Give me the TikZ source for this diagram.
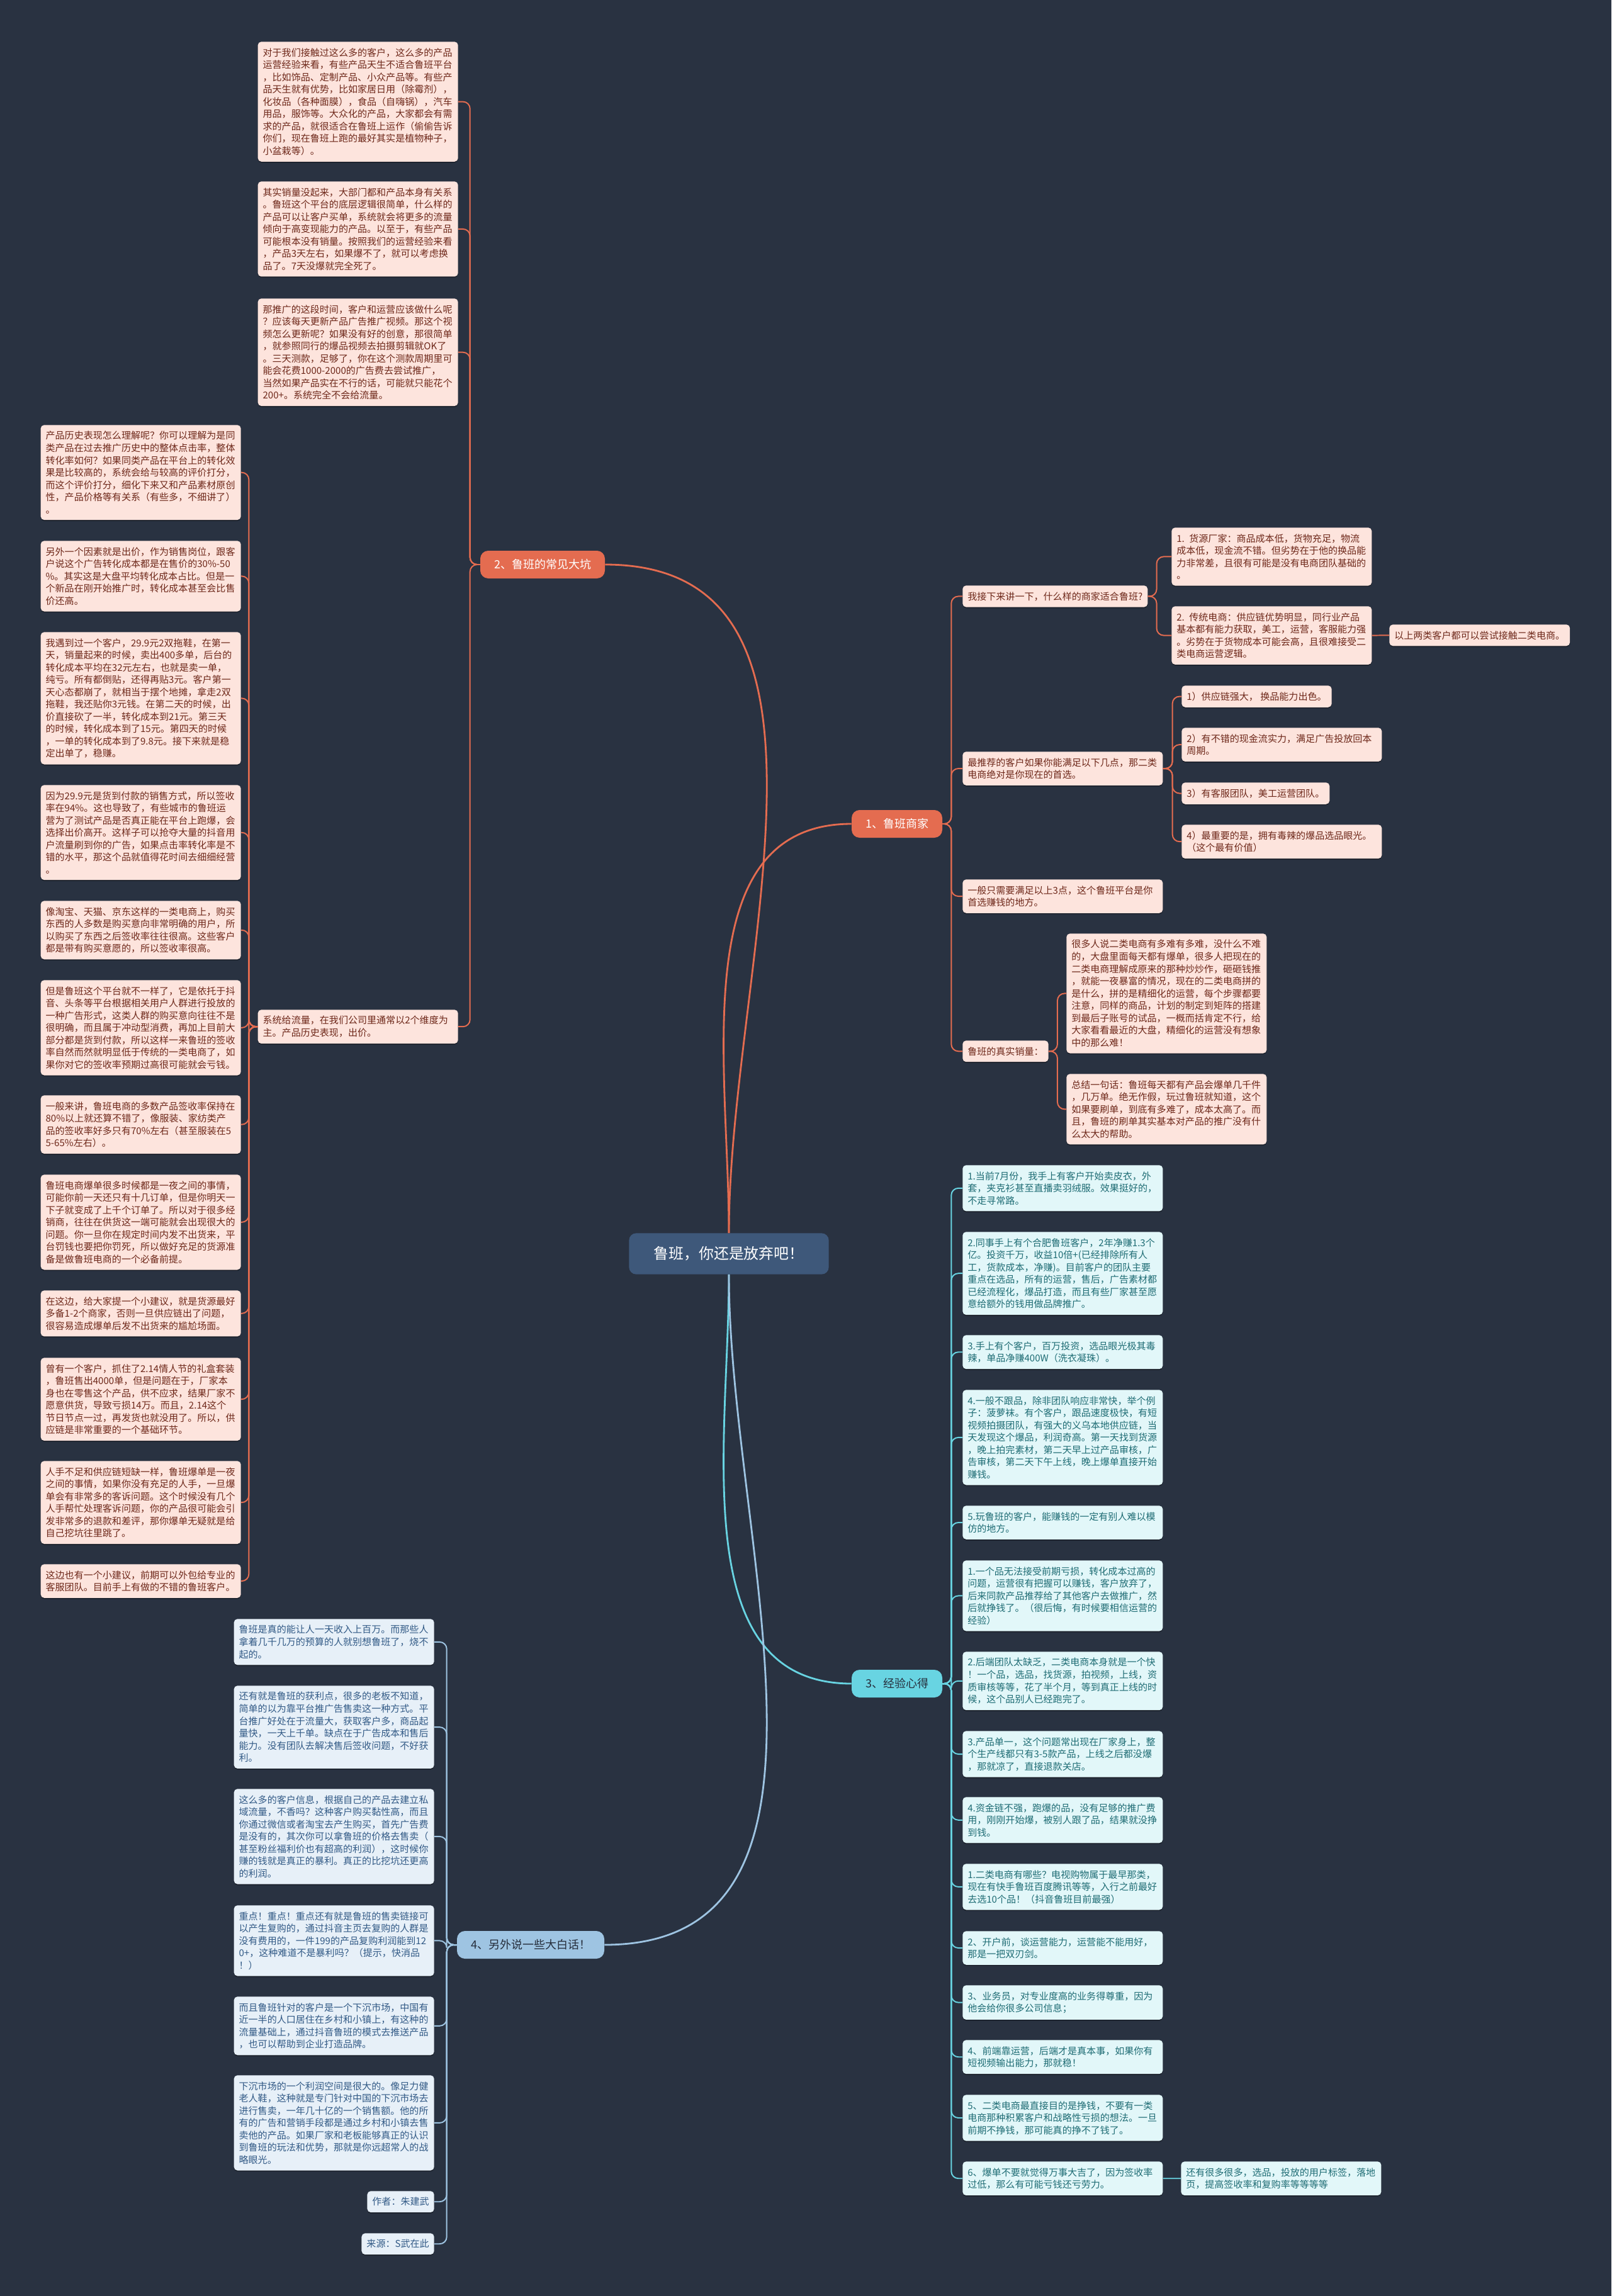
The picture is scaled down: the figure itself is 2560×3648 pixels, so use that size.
\documentclass[tikz,border=0pt]{standalone}
\usepackage{fontspec}
\setmainfont{Noto Sans CJK SC}
\usetikzlibrary{positioning, calc, shadows}
\definecolor{MapBg}{RGB}{41,50,65}
\definecolor{RootFill}{RGB}{62,88,122}
\definecolor{RedLine}{RGB}{228,108,80}
\definecolor{RedFill}{RGB}{253,228,221}
\definecolor{RedText}{RGB}{110,40,26}
\definecolor{CyanLine}{RGB}{104,212,226}
\definecolor{CyanFill}{RGB}{226,247,249}
\definecolor{CyanText}{RGB}{30,108,116}
\definecolor{BlueLine}{RGB}{158,196,226}
\definecolor{BlueFill}{RGB}{231,240,248}
\definecolor{BlueText}{RGB}{50,90,134}
\definecolor{DarkText}{RGB}{38,46,60}

\begin{document}
\begin{tikzpicture}[x=0.025cm, y=-0.025cm,
	leaf/.style={rounded corners=4pt, inner xsep=0.2cm, inner ysep=7.1pt, align=left,
		font=\fontsize{10.7}{13.9}\selectfont,
		drop shadow={shadow xshift=0pt, shadow yshift=-1.2pt, opacity=.35, fill=black}},
	redleaf/.style={leaf, fill=RedFill, text=RedText},
	cyanleaf/.style={leaf, fill=CyanFill, text=CyanText},
	blueleaf/.style={leaf, fill=BlueFill, text=BlueText},
	wide/.style={text width=7.55cm},
	topic/.style={rounded corners=9pt, inner xsep=0.55cm, minimum height=1.1cm,
		font=\fontsize{12.8}{15}\selectfont},
	limb/.style={line width=2pt},
	twig/.style={line width=1.4pt, rounded corners=8pt}]
	\fill[MapBg] (0,0) rectangle (2560,3648);
	\useasboundingbox (0,0) rectangle (2560,3648);

	% centre and main branches
	\node[fill=RootFill, text=white, rounded corners=8pt, minimum width=7.93cm,
		minimum height=1.63cm, font=\fontsize{17}{20}\selectfont] (root) at (1158,1992) {鲁班，你还是放弃吧！};
	\node[topic, fill=RedLine, text=white] (merchant) at (1425,1309) {1、鲁班商家};
	\node[topic, fill=RedLine, text=white] (pitfall) at (862,897) {2、鲁班的常见大坑};
	\node[topic, fill=CyanLine, text=DarkText] (lesson) at (1425,2675) {3、经验心得};
	\node[topic, fill=BlueLine, text=DarkText] (plain) at (843,3090) {4、另外说一些大白话！};

	\draw[limb, RedLine] (root.north) to[out=90, in=180] (merchant.west);
	\draw[limb, RedLine] (root.north) to[out=90, in=0] (pitfall.east);
	\draw[limb, CyanLine] (root.south) to[out=-90, in=180] (lesson.west);
	\draw[limb, BlueLine] (root.south) to[out=-90, in=0] (plain.east);

	% 1、鲁班商家
	\node[redleaf, anchor=north west] (suit) at (1529,930) {我接下来讲一下，什么样的商家适合鲁班?};
	\node[redleaf, wide, anchor=north west] (suit1) at (1861,838) {1. 货源厂家：商品成本低，货物充足，物流\\成本低，现金流不错。但劣势在于他的换品能\\力非常差，且很有可能是没有电商团队基础的\\。};
	\node[redleaf, wide, anchor=north west] (suit2) at (1861,963) {2. 传统电商：供应链优势明显，同行业产品\\基本都有能力获取，美工，运营，客服能力强\\。劣势在于货物成本可能会高，且很难接受二\\类电商运营逻辑。};
	\node[redleaf, anchor=north west] (suitnote) at (2207,992) {以上两类客户都可以尝试接触二类电商。};
	\node[redleaf, wide, anchor=north west] (best) at (1529,1194) {最推荐的客户如果你能满足以下几点，那二类\\电商绝对是你现在的首选。};
	\node[redleaf, anchor=north west] (best1) at (1877,1089) {1）供应链强大， 换品能力出色。};
	\node[redleaf, wide, anchor=north west] (best2) at (1877,1156) {2）有不错的现金流实力，满足广告投放回本\\周期。};
	\node[redleaf, anchor=north west] (best3) at (1877,1243) {3）有客服团队，美工运营团队。};
	\node[redleaf, wide, anchor=north west] (best4) at (1877,1310) {4）最重要的是，拥有毒辣的爆品选品眼光。\\（这个最有价值）};
	\node[redleaf, wide, anchor=north west] (enough) at (1529,1397) {一般只需要满足以上3点，这个鲁班平台是你\\首选赚钱的地方。};
	\node[redleaf, anchor=north west] (sales) at (1529,1653) {鲁班的真实销量：};
	\node[redleaf, wide, anchor=north west] (sales1) at (1694,1483) {很多人说二类电商有多难有多难，没什么不难\\的，大盘里面每天都有爆单，很多人把现在的\\二类电商理解成原来的那种炒炒作，砸砸钱推\\，就能一夜暴富的情况，现在的二类电商拼的\\是什么，拼的是精细化的运营，每个步骤都要\\注意，同样的商品，计划的制定到矩阵的搭建\\到最后子账号的试品，一概而括肯定不行，给\\大家看看最近的大盘，精细化的运营没有想象\\中的那么难！};
	\node[redleaf, wide, anchor=north west] (sales2) at (1694,1706) {总结一句话：鲁班每天都有产品会爆单几千件\\，几万单。绝无作假，玩过鲁班就知道，这个\\如果要刷单，到底有多难了，成本太高了。而\\且，鲁班的刷单其实基本对产品的推广没有什\\么太大的帮助。};

	\coordinate (mtrunk) at ($(merchant.east)+(14,0)$);
	\foreach \n in {suit, best, enough, sales}
		\draw[twig, RedLine] (merchant.east) -- (mtrunk) |- (\n.west);
	\coordinate (strunk) at ($(suit.east)+(14,0)$);
	\foreach \n in {suit1, suit2}
		\draw[twig, RedLine] (suit.east) -- (strunk) |- (\n.west);
	\draw[twig, RedLine] (suit2.east) -- (suitnote.west);
	\coordinate (btrunk) at ($(best.east)+(15,0)$);
	\foreach \n in {best1, best2, best3, best4}
		\draw[twig, RedLine] (best.east) -- (btrunk) |- (\n.west);
	\coordinate (vtrunk) at ($(sales.east)+(14,0)$);
	\foreach \n in {sales1, sales2}
		\draw[twig, RedLine] (sales.east) -- (vtrunk) |- (\n.west);

	% 2、鲁班的常见大坑
	\foreach \y/\t [count=\i] in {
		66/{对于我们接触过这么多的客户，这么多的产品\\运营经验来看，有些产品天生不适合鲁班平台\\，比如饰品、定制产品、小众产品等。有些产\\品天生就有优势，比如家居日用（除霉剂），\\化妆品（各种面膜），食品（自嗨锅），汽车\\用品，服饰等。大众化的产品，大家都会有需\\求的产品，就很适合在鲁班上运作（偷偷告诉\\你们，现在鲁班上跑的最好其实是植物种子，\\小盆栽等）。},
		288/{其实销量没起来，大部门都和产品本身有关系\\。鲁班这个平台的底层逻辑很简单，什么样的\\产品可以让客户买单，系统就会将更多的流量\\倾向于高变现能力的产品。以至于，有些产品\\可能根本没有销量。按照我们的运营经验来看\\，产品3天左右，如果爆不了，就可以考虑换\\品了。7天没爆就完全死了。},
		474/{那推广的这段时间，客户和运营应该做什么呢\\？应该每天更新产品广告推广视频。那这个视\\频怎么更新呢？如果没有好的创意，那很简单\\，就参照同行的爆品视频去拍摄剪辑就OK了\\。三天测款，足够了，你在这个测款周期里可\\能会花费1000-2000的广告费去尝试推广，\\当然如果产品实在不行的话，可能就只能花个\\200+。系统完全不会给流量。},
		1604/{系统给流量，在我们公司里通常以2个维度为\\主。产品历史表现，出价。}}{
		\node[redleaf, wide, anchor=north east] (pit\i) at (728,\y) {\t};
	}
	\foreach \y/\t [count=\i] in {
		675/{产品历史表现怎么理解呢？你可以理解为是同\\类产品在过去推广历史中的整体点击率，整体\\转化率如何？如果同类产品在平台上的转化效\\果是比较高的，系统会给与较高的评价打分，\\而这个评价打分，细化下来又和产品素材原创\\性，产品价格等有关系（有些多，不细讲了）\\。},
		859/{另外一个因素就是出价，作为销售岗位，跟客\\户说这个广告转化成本都是在售价的30\%-50\\\%。其实这是大盘平均转化成本占比。但是一\\个新品在刚开始推广时，转化成本甚至会比售\\价还高。},
		1004/{我遇到过一个客户，29.9元2双拖鞋，在第一\\天，销量起来的时候，卖出400多单，后台的\\转化成本平均在32元左右，也就是卖一单，\\纯亏。所有都倒贴，还得再贴3元。客户第一\\天心态都崩了，就相当于摆个地摊，拿走2双\\拖鞋，我还贴你3元钱。在第二天的时候，出\\价直接砍了一半，转化成本到21元。第三天\\的时候，转化成本到了15元。第四天的时候\\，一单的转化成本到了9.8元。接下来就是稳\\定出单了，稳赚。},
		1247/{因为29.9元是货到付款的销售方式，所以签收\\率在94\%。这也导致了，有些城市的鲁班运\\营为了测试产品是否真正能在平台上跑爆，会\\选择出价高开。这样子可以抢夺大量的抖音用\\户流量刷到你的广告，如果点击率转化率是不\\错的水平，那这个品就值得花时间去细细经营\\。},
		1431/{像淘宝、天猫、京东这样的一类电商上，购买\\东西的人多数是购买意向非常明确的用户，所\\以购买了东西之后签收率往往很高。这些客户\\都是带有购买意愿的，所以签收率很高。},
		1557/{但是鲁班这个平台就不一样了，它是依托于抖\\音、头条等平台根据相关用户人群进行投放的\\一种广告形式，这类人群的购买意向往往不是\\很明确，而且属于冲动型消费，再加上目前大\\部分都是货到付款，所以这样一来鲁班的签收\\率自然而然就明显低于传统的一类电商了，如\\果你对它的签收率预期过高很可能就会亏钱。},
		1740/{一般来讲，鲁班电商的多数产品签收率保持在\\80\%以上就还算不错了，像服装、家纺类产\\品的签收率好多只有70\%左右（甚至服装在5\\5-65\%左右）。},
		1866/{鲁班电商爆单很多时候都是一夜之间的事情，\\可能你前一天还只有十几订单，但是你明天一\\下子就变成了上千个订单了。所以对于很多经\\销商，往往在供货这一端可能就会出现很大的\\问题。你一旦你在规定时间内发不出货来，平\\台罚钱也要把你罚死，所以做好充足的货源准\\备是做鲁班电商的一个必备前提。},
		2050/{在这边，给大家提一个小建议，就是货源最好\\多备1-2个商家，否则一旦供应链出了问题，\\很容易造成爆单后发不出货来的尴尬场面。},
		2157/{曾有一个客户，抓住了2.14情人节的礼盒套装\\，鲁班售出4000单，但是问题在于，厂家本\\身也在零售这个产品，供不应求，结果厂家不\\愿意供货，导致亏损14万。而且，2.14这个\\节日节点一过，再发货也就没用了。所以，供\\应链是非常重要的一个基础环节。},
		2321/{人手不足和供应链短缺一样，鲁班爆单是一夜\\之间的事情，如果你没有充足的人手，一旦爆\\单会有非常多的客诉问题。这个时候没有几个\\人手帮忙处理客诉问题，你的产品很可能会引\\发非常多的退款和差评，那你爆单无疑就是给\\自己挖坑往里跳了。},
		2485/{这边也有一个小建议，前期可以外包给专业的\\客服团队。目前手上有做的不错的鲁班客户。}}{
		\node[redleaf, wide, anchor=north east] (flow\i) at (383,\y) {\t};
	}

	\coordinate (ptrunk) at ($(pitfall.west)+(-16,0)$);
	\foreach \i in {1,...,4}
		\draw[twig, RedLine] (pitfall.west) -- (ptrunk) |- (pit\i.east);
	\coordinate (ftrunk) at ($(pit4.west)+(-14,0)$);
	\foreach \i in {1,...,12}
		\draw[twig, RedLine] (pit4.west) -- (ftrunk) |- (flow\i.east);

	% 3、经验心得
	\foreach \y/\t [count=\i] in {
		1851/{1.当前7月份，我手上有客户开始卖皮衣，外\\套，夹克衫甚至直播卖羽绒服。效果挺好的，\\不走寻常路。},
		1957/{2.同事手上有个合肥鲁班客户，2年净赚1.3个\\亿。投资千万，收益10倍+(已经排除所有人\\工，货款成本，净赚)。目前客户的团队主要\\重点在选品，所有的运营，售后，广告素材都\\已经流程化，爆品打造，而且有些厂家甚至愿\\意给额外的钱用做品牌推广。},
		2121/{3.手上有个客户，百万投资，选品眼光极其毒\\辣，单品净赚400W（洗衣凝珠）。},
		2208/{4.一般不跟品，除非团队响应非常快，举个例\\子：菠萝袜。有个客户，跟品速度极快，有短\\视频拍摄团队，有强大的义乌本地供应链，当\\天发现这个爆品，利润奇高。第一天找到货源\\，晚上拍完素材，第二天早上过产品审核，广\\告审核，第二天下午上线，晚上爆单直接开始\\赚钱。},
		2392/{5.玩鲁班的客户，能赚钱的一定有别人难以模\\仿的地方。},
		2479/{1.一个品无法接受前期亏损，转化成本过高的\\问题，运营很有把握可以赚钱，客户放弃了，\\后来同款产品推荐给了其他客户去做推广，然\\后就挣钱了。（很后悔，有时候要相信运营的\\经验）},
		2624/{2.后端团队太缺乏，二类电商本身就是一个快\\！一个品，选品，找货源，拍视频，上线，资\\质审核等等，花了半个月，等到真正上线的时\\候，这个品别人已经跑完了。},
		2750/{3.产品单一，这个问题常出现在厂家身上，整\\个生产线都只有3-5款产品，上线之后都没爆\\，那就凉了，直接退款关店。},
		2855/{4.资金链不强，跑爆的品，没有足够的推广费\\用，刚刚开始爆，被别人跟了品，结果就没挣\\到钱。},
		2961/{1.二类电商有哪些？电视购物属于最早那类，\\现在有快手鲁班百度腾讯等等，入行之前最好\\去选10个品！（抖音鲁班目前最强）},
		3068/{2、开户前，谈运营能力，运营能不能用好，\\那是一把双刃剑。},
		3154/{3、业务员，对专业度高的业务得尊重，因为\\他会给你很多公司信息；},
		3241/{4、前端靠运营，后端才是真本事，如果你有\\短视频输出能力，那就稳！},
		3328/{5、二类电商最直接目的是挣钱，不要有一类\\电商那种积累客户和战略性亏损的想法。一旦\\前期不挣钱，那可能真的挣不了钱了。},
		3434/{6、爆单不要就觉得万事大吉了，因为签收率\\过低，那么有可能亏钱还亏劳力。}}{
		\node[cyanleaf, wide, anchor=north west] (tip\i) at (1529,\y) {\t};
	}
	\node[cyanleaf, wide, anchor=north west] (tipnote) at (1876,3434) {还有很多很多，选品，投放的用户标签，落地\\页，提高签收率和复购率等等等等};

	\coordinate (ltrunk) at ($(lesson.east)+(14,0)$);
	\foreach \i in {1,...,15}
		\draw[twig, CyanLine] (lesson.east) -- (ltrunk) |- (tip\i.west);
	\draw[twig, CyanLine] (tip15.east) -- (tipnote.west);

	% 4、另外说一些大白话！
	\foreach \y/\t [count=\i] in {
		2572/{鲁班是真的能让人一天收入上百万。而那些人\\拿着几千几万的预算的人就别想鲁班了，烧不\\起的。},
		2678/{还有就是鲁班的获利点，很多的老板不知道，\\简单的以为靠平台推广告售卖这一种方式。平\\台推广好处在于流量大，获取客户多，商品起\\量快，一天上千单。缺点在于广告成本和售后\\能力。没有团队去解决售后签收问题，不好获\\利。},
		2842/{这么多的客户信息，根据自己的产品去建立私\\域流量，不香吗？这种客户购买黏性高，而且\\你通过微信或者淘宝去产生购买，首先广告费\\是没有的，其次你可以拿鲁班的价格去售卖（\\甚至粉丝福利价也有超高的利润），这时候你\\赚的钱就是真正的暴利。真正的比挖坑还更高\\的利润。},
		3027/{重点！重点！重点还有就是鲁班的售卖链接可\\以产生复购的，通过抖音主页去复购的人群是\\没有费用的，一件199的产品复购利润能到12\\0+，这种难道不是暴利吗？（提示，快消品\\！）},
		3172/{而且鲁班针对的客户是一个下沉市场，中国有\\近一半的人口居住在乡村和小镇上，有这种的\\流量基础上，通过抖音鲁班的模式去推送产品\\，也可以帮助到企业打造品牌。},
		3297/{下沉市场的一个利润空间是很大的。像足力健\\老人鞋，这种就是专门针对中国的下沉市场去\\进行售卖，一年几十亿的一个销售额。他的所\\有的广告和营销手段都是通过乡村和小镇去售\\卖他的产品。如果厂家和老板能够真正的认识\\到鲁班的玩法和优势，那就是你远超常人的战\\略眼光。}}{
		\node[blueleaf, wide, anchor=north east] (talk\i) at (690,\y) {\t};
	}
	\node[blueleaf, anchor=north east] (talk7) at (690,3481) {作者：朱建武};
	\node[blueleaf, anchor=north east] (talk8) at (690,3548) {来源：S武在此};

	\coordinate (ttrunk) at ($(plain.west)+(-16,0)$);
	\foreach \i in {1,...,8}
		\draw[twig, BlueLine] (plain.west) -- (ttrunk) |- (talk\i.east);
\end{tikzpicture}
\end{document}
